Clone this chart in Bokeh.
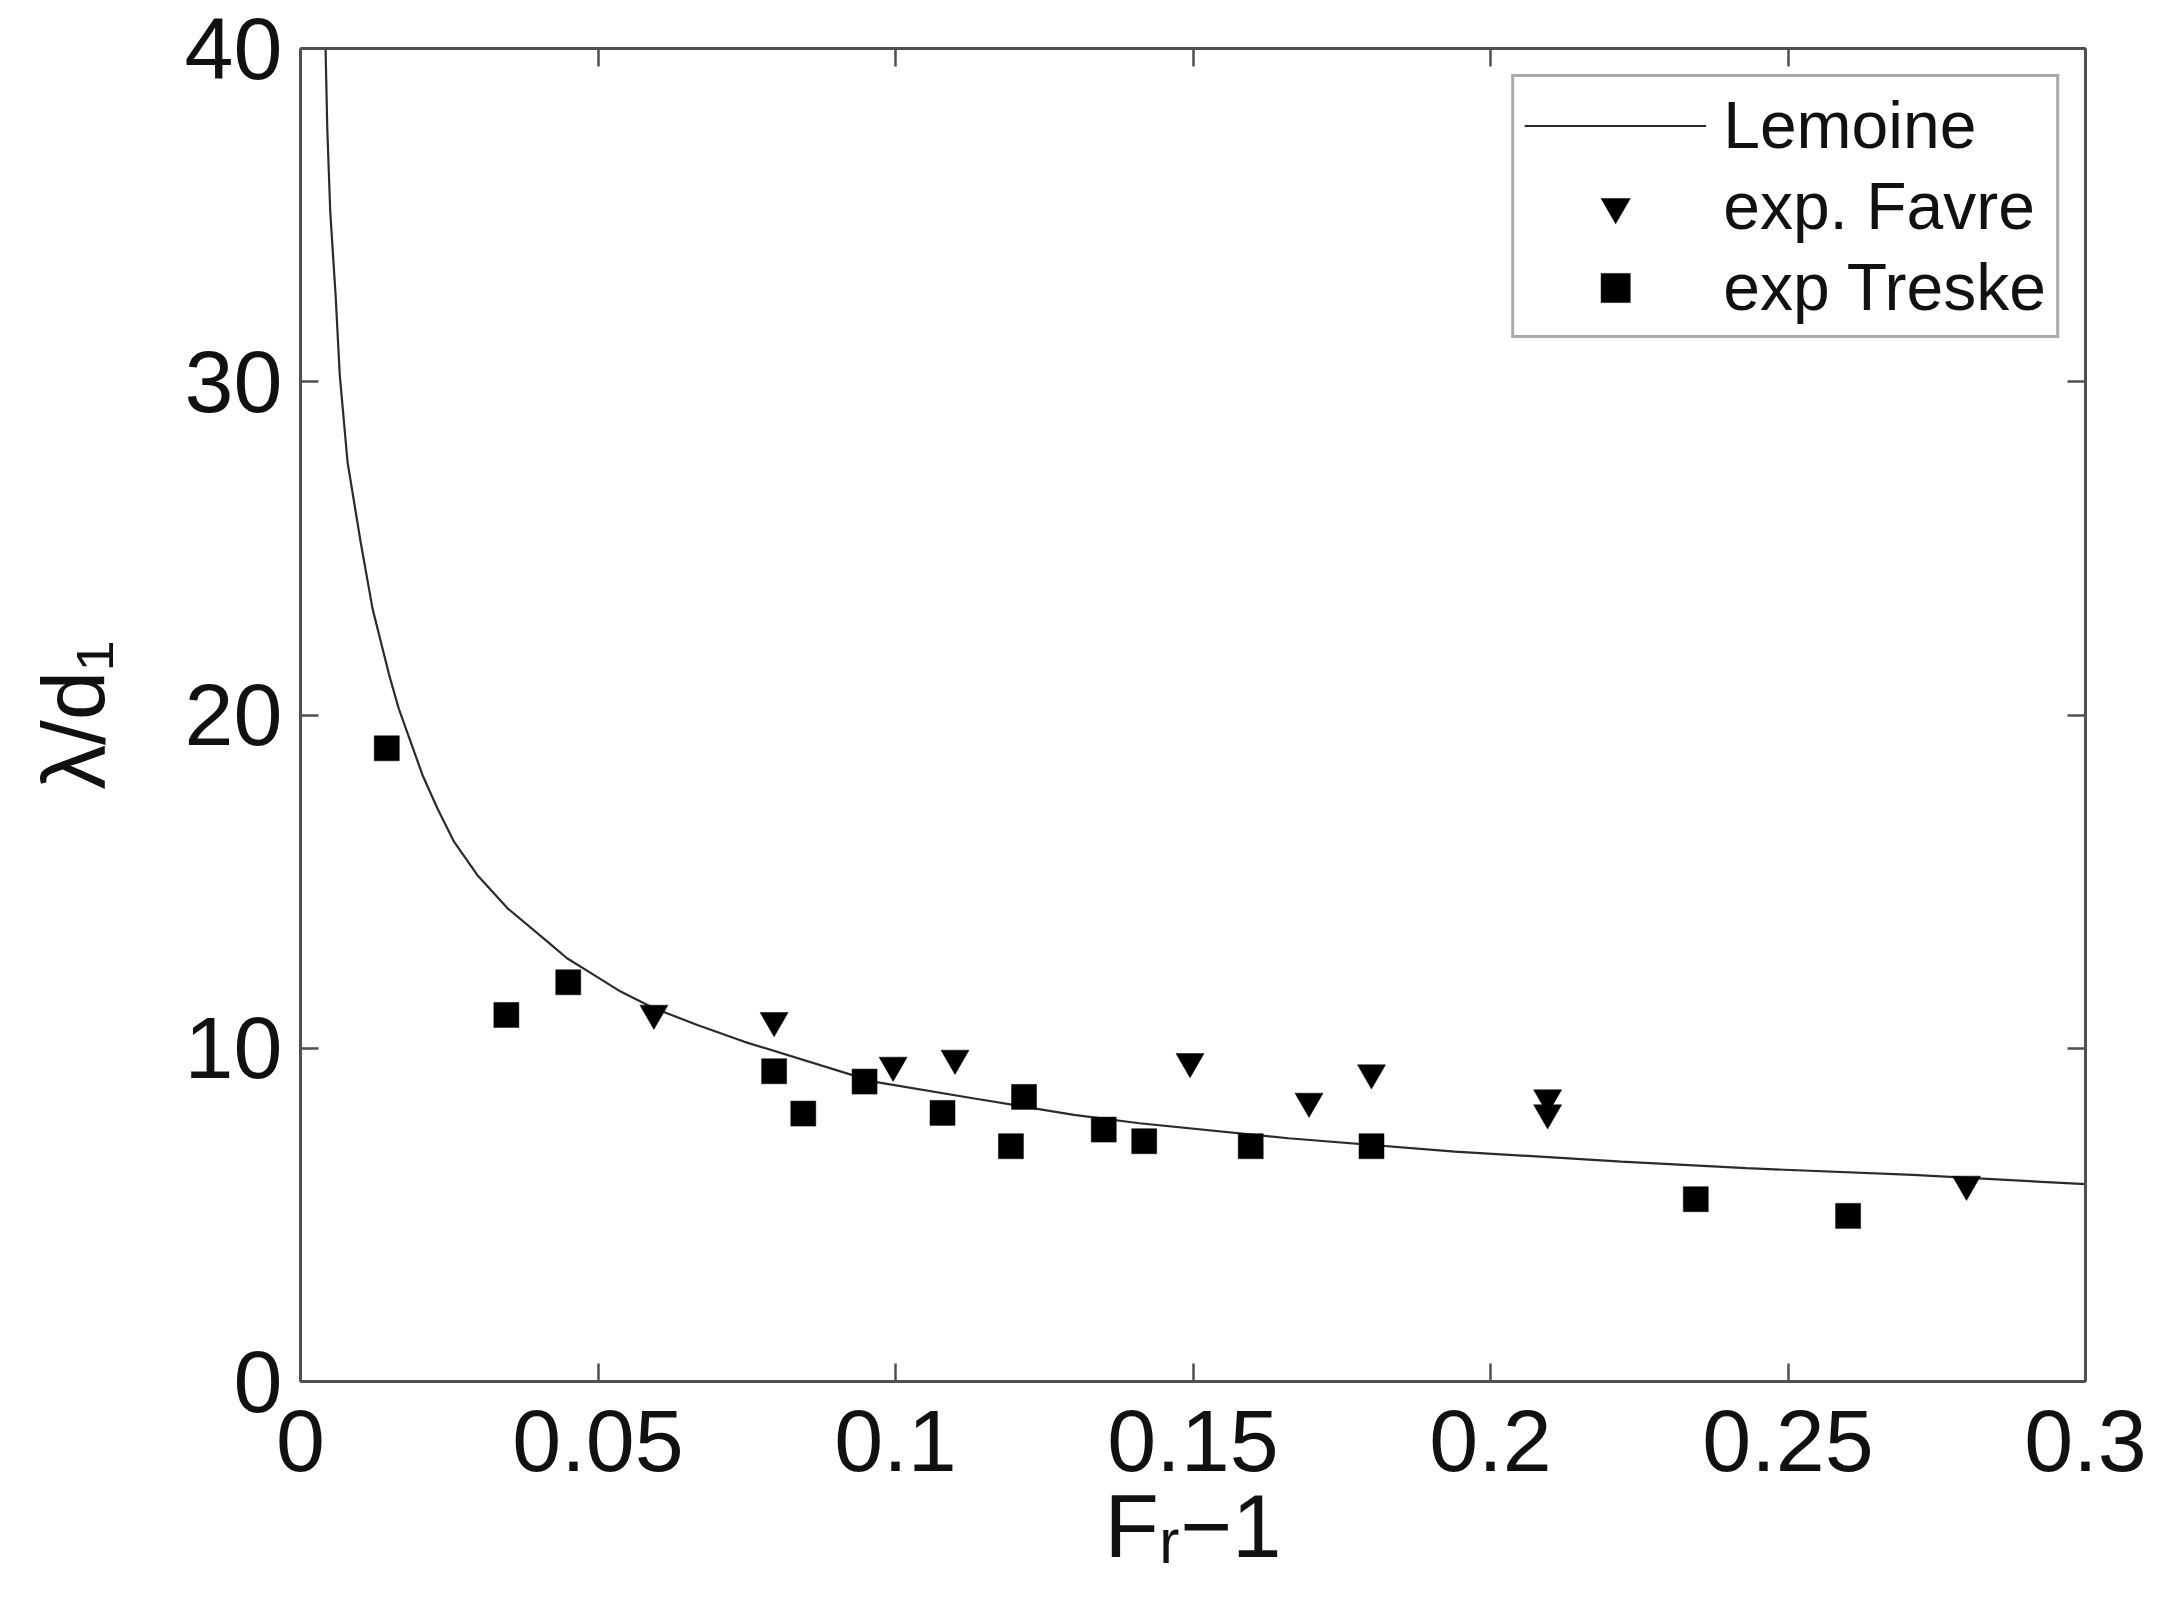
from bokeh.plotting import figure
from bokeh.models import (Range1d, FixedTicker, LinearAxis, Legend,
                          LegendItem, CustomJSTickFormatter)
from bokeh.embed import file_html
from bokeh.resources import INLINE

# ---------------- data ----------------
lemoine_x = [0.0042, 0.0045, 0.0050, 0.0059, 0.0066, 0.0079, 0.0101, 0.0121,
             0.0135, 0.0149, 0.0165, 0.0185, 0.0205, 0.0230, 0.0258, 0.0297,
             0.0348, 0.0415, 0.0448, 0.0493, 0.0538, 0.0594, 0.0667, 0.0745,
             0.0963, 0.1130, 0.1300, 0.1410, 0.1660, 0.1940, 0.2220, 0.2430,
             0.2710, 0.3000]
lemoine_y = [40.1, 37.6, 35.1, 32.6, 30.2, 27.6, 25.2, 23.2,
             22.2, 21.2, 20.2, 19.2, 18.2, 17.2, 16.2, 15.2,
             14.2, 13.2, 12.7, 12.2, 11.7, 11.2, 10.7, 10.2,
             9.0, 8.5, 8.0, 7.75, 7.3, 6.9, 6.6, 6.4,
             6.2, 5.92]

favre_x = [0.0594, 0.0796, 0.0996, 0.1100, 0.1495, 0.1695, 0.1800, 0.2096, 0.2096, 0.2800]
favre_y = [11.05, 10.83, 9.49, 9.70, 9.60, 8.41, 9.26, 8.51, 8.06, 5.92]

treske_x = [0.0145, 0.0346, 0.0450, 0.0796, 0.0845, 0.0948, 0.1079, 0.1194,
            0.1216, 0.1350, 0.1418, 0.1597, 0.1800, 0.2345, 0.2601]
treske_y = [19.0, 11.0, 11.98, 9.31, 8.04, 9.0, 8.06, 7.06,
            8.54, 7.56, 7.21, 7.06, 7.06, 5.47, 4.97]

x_ticks = [0, 0.05, 0.1, 0.15, 0.2, 0.25, 0.3]
x_tick_labels = ["0", "0.05", "0.1", "0.15", "0.2", "0.25", "0.3"]
y_ticks = [0, 10, 20, 30, 40]
y_tick_labels = ["0", "10", "20", "30", "40"]

series_names = ["Lemoine", "exp. Favre", "exp Treske"]
x_title = "F\u1d63\u22121"
y_title = "\u03bb/d\u2081"

# ---------------- styling ----------------
FONT = "Liberation Sans"
AX_COLOR = "#505050"
TXT = "#111111"

p = figure(width=2161, height=1613,
           x_range=Range1d(0, 0.3), y_range=Range1d(0, 40),
           output_backend="svg", toolbar_location=None,
           min_border_left=300, min_border_right=76,
           min_border_top=48, min_border_bottom=232)
p.grid.visible = False
p.outline_line_color = None
p.background_fill_color = "white"
p.border_fill_color = "white"

r_line = p.line(lemoine_x, lemoine_y, line_color="#2b2b2b", line_width=2.2)
r_fav = p.scatter(favre_x, favre_y, marker="inverted_triangle", size=28,
                  fill_color="black", line_color="black", line_width=0.5)
r_tre = p.scatter(treske_x, treske_y, marker="square", size=25,
                  fill_color="black", line_color="black", line_width=0.5)


def style_axis(ax):
    ax.axis_line_color = AX_COLOR
    ax.axis_line_width = 3
    ax.major_tick_line_color = AX_COLOR
    ax.major_tick_line_width = 2.5
    ax.major_tick_in = 18
    ax.major_tick_out = 0
    ax.minor_tick_in = 0
    ax.minor_tick_out = 0
    ax.major_label_text_font = FONT
    ax.major_label_text_font_size = "88px"
    ax.major_label_text_color = TXT
    ax.axis_label_text_font = FONT
    ax.axis_label_text_font_size = "89px"
    ax.axis_label_text_font_style = "normal"
    ax.axis_label_text_color = TXT


xa = p.xaxis[0]
xa.ticker = FixedTicker(ticks=x_ticks)
xa.major_label_overrides = dict(zip(x_ticks, x_tick_labels))
style_axis(xa)
xa.major_label_standoff = 29
xa.axis_label = x_title
xa.axis_label_standoff = 2

ya = p.yaxis[0]
ya.ticker = FixedTicker(ticks=y_ticks)
ya.major_label_overrides = dict(zip(y_ticks, y_tick_labels))
style_axis(ya)
ya.major_label_standoff = 18
ya.axis_label = y_title
ya.axis_label_standoff = 58

blank = CustomJSTickFormatter(code="return ''")
top = LinearAxis(ticker=FixedTicker(ticks=x_ticks), formatter=blank)
style_axis(top)
p.add_layout(top, "above")
right = LinearAxis(ticker=FixedTicker(ticks=y_ticks), formatter=blank)
style_axis(right)
p.add_layout(right, "right")

legend = Legend(items=[LegendItem(label=series_names[0], renderers=[r_line]),
                       LegendItem(label=series_names[1], renderers=[r_fav]),
                       LegendItem(label=series_names[2], renderers=[r_tre])],
                location="top_right", margin=26, padding=10, spacing=5,
                glyph_width=182, glyph_height=73, label_height=73,
                label_standoff=17, label_text_font=FONT,
                label_text_font_size="66px", label_text_color=TXT,
                border_line_color="#555555", border_line_width=3.5,
                background_fill_color="white", background_fill_alpha=1.0)
p.add_layout(legend)

open("out.html", "w").write(file_html(p, INLINE))
